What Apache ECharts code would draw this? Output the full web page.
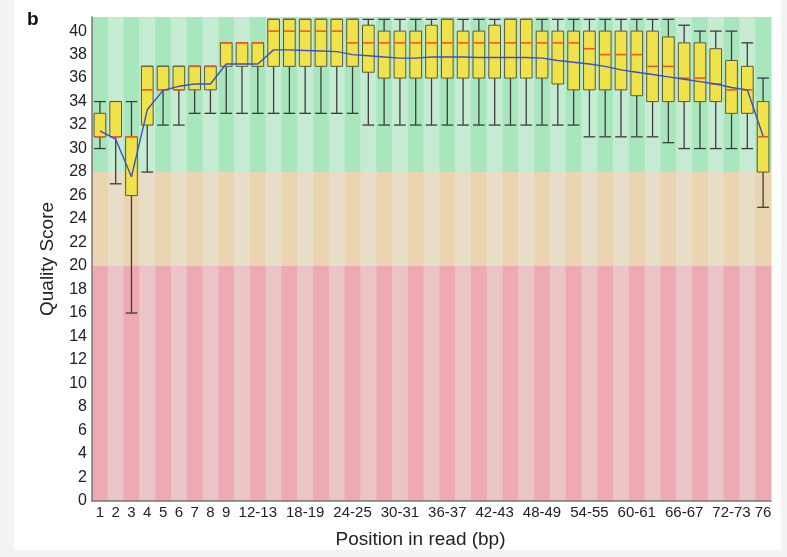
<!DOCTYPE html>
<html>
<head>
<meta charset="utf-8">
<script src="https://cdn.jsdelivr.net/npm/echarts@6/dist/echarts.min.js"></script>
<style>
html,body{margin:0;padding:0;background:#f3f3f3;}
#chart{width:787px;height:557px;}
</style>
</head>
<body>
<div id="chart"></div>
<script>
// ---- data ----
const categories = ['1','2','3','4','5','6','7','8','9',
  '10-11','12-13','14-15','16-17','18-19','20-21','22-23','24-25','26-27','28-29',
  '30-31','32-33','34-35','36-37','38-39','40-41','42-43','44-45','46-47','48-49',
  '50-51','52-53','54-55','56-57','58-59','60-61','62-63','64-65','66-67','68-69',
  '70-71','72-73','74-75','76'];
const whiskerLow = [30,27,16,28,32,32,33,33,33,33,33,33,33,33,33,33,33,32,32,32,32,32,32,32,32,32,32,32,32,32,32,31,31,31,31,31,30.5,30,30,30,30,30,25];
const lowerQuartile = [31,31,26,32,35,35,35,35,37,37,37,37,37,37,37,37,37,36.5,36,36,36,36,36,36,36,36,36,36,36,35.5,35,35,35,35,34.5,34,34,34,34,34,33,33,28];
const median = [31,31,31,35,35,35,37,37,39,39,39,40,40,40,40,40,39,39,39,39,39,39,39,39,39,39,39,39,39,39,39,38.5,38,38,38,37,37,36,36,35.5,35,35,31];
const upperQuartile = [33,34,31,37,37,37,37,37,39,39,39,41,41,41,41,41,41,40.5,40,40,40,40.5,41,40,40,40.5,41,41,40,40,40,40,40,40,40,40,39.5,39,39,38.5,37.5,37,34];
const whiskerHigh = [34,34,34,37,37,37,37,37,39,39,39,41,41,41,41,41,41,41,41,41,41,41,41,41,41,41,41,41,41,41,41,41,41,41,41,41,41,40.5,40,40,40,39,36];
const meanQuality = [31.5,30.8,27.6,33.3,34.95,35.3,35.5,35.5,37.2,37.2,37.2,38.4,38.4,38.35,38.3,38.25,38.0,37.9,37.8,37.7,37.7,37.8,37.8,37.8,37.75,37.75,37.75,37.75,37.7,37.5,37.35,37.2,37.0,36.7,36.5,36.3,36.1,35.9,35.7,35.5,35.2,35.0,31.05];
const bandEdges = [0, 20, 28, 41.2];
const yTicks = {min: 0, max: 41.2, interval: 2};

// ---- build ----
const boxData = categories.map((c, i) => [i, whiskerLow[i], lowerQuartile[i], median[i], upperQuartile[i], whiskerHigh[i]]);
const bgData = categories.map((c, i) => [i, bandEdges[0], bandEdges[1], bandEdges[2], bandEdges[3]]);
const bandColors = [
  ['#eeaab2', '#ebc4c7'],
  ['#ebd5b1', '#e8ddc8'],
  ['#a8e6be', '#c5ebd2']
];

const chart = echarts.init(document.getElementById('chart'), null, {renderer: 'canvas'});
const font = 'Liberation Sans, Arial, Helvetica, sans-serif';

chart.setOption({
  animation: false,
  backgroundColor: 'transparent',
  graphic: [
    {type: 'rect', left: 14, top: 0, shape: {width: 767, height: 550}, style: {fill: '#ffffff'}, z: -10, silent: true},
    {type: 'text', left: 27, top: 10, style: {text: 'b', font: 'bold 19px ' + font, fill: '#111'}, z: 10}
  ],
  grid: {left: 92, right: 16, top: 17, bottom: 56},
  xAxis: {
    type: 'category',
    data: categories,
    boundaryGap: true,
    z: 10,
    name: 'Position in read (bp)',
    nameLocation: 'middle',
    nameGap: 29,
    nameTextStyle: {fontSize: 19, color: '#222', fontFamily: font, padding: [0, 22, 0, 0]},
    axisLine: {show: true, lineStyle: {color: '#777', width: 1.5}},
    axisTick: {show: false},
    axisLabel: {
      fontSize: 15, color: '#222', fontFamily: font, margin: 4,
      interval: function (idx) { return idx <= 8 || (idx >= 10 && (idx - 10) % 3 === 0) || idx === categories.length - 1; }
    },
    splitLine: {show: false}
  },
  yAxis: {
    type: 'value',
    min: yTicks.min, max: yTicks.max, interval: yTicks.interval,
    z: 10,
    name: 'Quality Score',
    nameLocation: 'middle',
    nameGap: 35,
    nameTextStyle: {fontSize: 19, color: '#222', fontFamily: font},
    axisLine: {show: true, lineStyle: {color: '#777', width: 1.5}},
    axisTick: {show: false},
    axisLabel: {fontSize: 16, color: '#222', fontFamily: font, margin: 5, showMaxLabel: false},
    splitLine: {show: false}
  },
  series: [
    {
      type: 'custom',
      z: 1,
      silent: true,
      data: bgData,
      encode: {x: 0, y: [1, 2, 3, 4]},
      renderItem: function (params, api) {
        const i = api.value(0);
        const w = api.size([1, 0])[0];
        const children = [];
        for (let b = 0; b < 3; b++) {
          const p0 = api.coord([i, api.value(1 + b)]);
          const p1 = api.coord([i, api.value(2 + b)]);
          children.push({
            type: 'rect',
            shape: {x: p0[0] - w / 2, y: p1[1], width: w + 0.5, height: p0[1] - p1[1]},
            style: {fill: bandColors[b][i % 2]}
          });
        }
        return {type: 'group', children: children};
      }
    },
    {
      type: 'custom',
      z: 3,
      data: boxData,
      encode: {x: 0, y: [1, 2, 3, 4, 5]},
      renderItem: function (params, api) {
        const i = api.value(0);
        const w = api.size([1, 0])[0];
        const hw = w * 0.37;
        const pl = api.coord([i, api.value(1)]);
        const pq1 = api.coord([i, api.value(2)]);
        const pm = api.coord([i, api.value(3)]);
        const pq3 = api.coord([i, api.value(4)]);
        const ph = api.coord([i, api.value(5)]);
        const x = pl[0];
        const wStyle = {stroke: '#3d3d3d', lineWidth: 1.3};
        return {
          type: 'group',
          children: [
            {type: 'line', shape: {x1: x, y1: pl[1], x2: x, y2: pq1[1]}, style: wStyle},
            {type: 'line', shape: {x1: x, y1: pq3[1], x2: x, y2: ph[1]}, style: wStyle},
            {type: 'line', shape: {x1: x - hw, y1: pl[1], x2: x + hw, y2: pl[1]}, style: wStyle},
            {type: 'line', shape: {x1: x - hw, y1: ph[1], x2: x + hw, y2: ph[1]}, style: wStyle},
            {type: 'rect', shape: {x: x - hw, y: pq3[1], width: 2 * hw, height: Math.max(pq1[1] - pq3[1], 0.5)},
              style: {fill: '#efe24a', stroke: '#5a5a3a', lineWidth: 1}},
            {type: 'line', shape: {x1: x - hw + 0.5, y1: pm[1], x2: x + hw - 0.5, y2: pm[1]}, style: {stroke: '#ee5a24', lineWidth: 1.6}}
          ]
        };
      }
    },
    {
      type: 'line',
      z: 4,
      data: meanQuality,
      symbol: 'none',
      smooth: false,
      lineStyle: {color: '#3a52c6', width: 1.4}
    }
  ]
});
</script>
</body>
</html>
